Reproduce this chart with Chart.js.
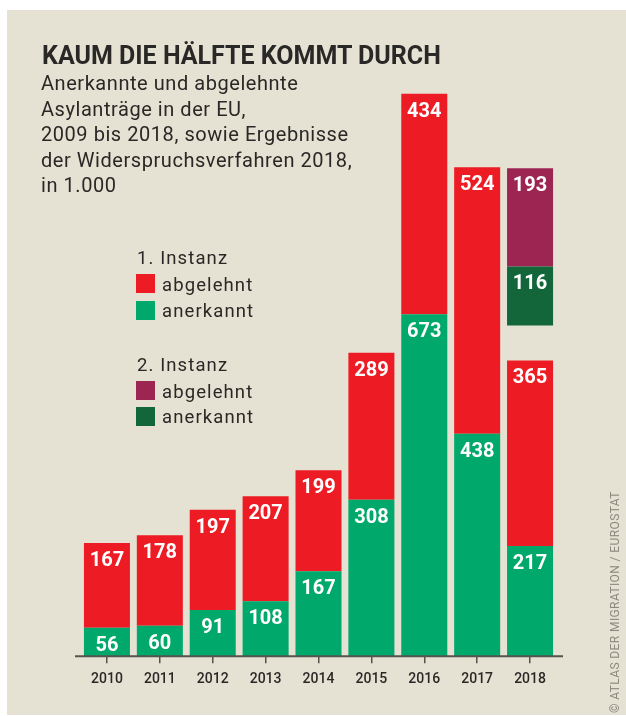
<!DOCTYPE html>
<html lang="de">
<head>
<meta charset="utf-8">
<script src="https://cdn.jsdelivr.net/npm/chart.js@4"></script>
<style>
  html, body { margin: 0; padding: 0; background: #fff; }
  body { width: 626px; height: 716px; position: relative; overflow: hidden; font-family: Roboto, sans-serif; color: #2a2826; }
  #panel { position: absolute; left: 7px; top: 10px; width: 619px; height: 705px; background: #e5e2d3; }
  #chart-wrap { position: absolute; left: 0; top: 0; width: 626px; height: 716px; }
  .txt { position: absolute; white-space: nowrap; }
  #title { left: 42px; top: 41px; font-size: 25px; line-height: 30px; font-weight: 700; letter-spacing: 0; }
  #subtitle { left: 41px; top: 71px; font-size: 20px; line-height: 25.5px; letter-spacing: 0.55px; }
  .lg { font-size: 18.5px; line-height: 26px; letter-spacing: 1.1px; }
  .sw { position: absolute; width: 19px; height: 19px; }
  #credit { left: 608px; top: 713px; font-size: 12px; line-height: 14px; color: #8c8a80; letter-spacing: 0.4px;
            transform-origin: 0 0; transform: rotate(-90deg); }
</style>
</head>
<body>
<div id="panel"></div>
<div id="chart-wrap"><canvas id="asylChart" width="626" height="716"></canvas></div>

<div class="txt" id="title">KAUM DIE HÄLFTE KOMMT DURCH</div>
<div class="txt" id="subtitle">Anerkannte und abgelehnte<br>Asylanträge in der EU,<br>2009 bis 2018, sowie Ergebnisse<br>der Widerspruchsverfahren 2018,<br>in 1.000</div>

<div class="txt lg" style="left:137px; top:245px;">1. Instanz</div>
<div class="sw" style="left:136px; top:274px; background:#ed1c24;"></div>
<div class="txt lg" style="left:162px; top:272px;">abgelehnt</div>
<div class="sw" style="left:136px; top:301px; background:#00a86b;"></div>
<div class="txt lg" style="left:162px; top:298px;">anerkannt</div>

<div class="txt lg" style="left:137px; top:352px;">2. Instanz</div>
<div class="sw" style="left:136px; top:381px; background:#9c2552;"></div>
<div class="txt lg" style="left:162px; top:379px;">abgelehnt</div>
<div class="sw" style="left:136px; top:407px; background:#13653a;"></div>
<div class="txt lg" style="left:162px; top:404px;">anerkannt</div>

<div class="txt" id="credit">© ATLAS DER MIGRATION / EUROSTAT</div>

<script>
(function(){

    // Asylanträge EU, in 1.000
    const years = ['2010', '2011', '2012', '2013', '2014', '2015', '2016', '2017', '2018'];
    const granted1 = [56, 60, 91, 108, 167, 308, 673, 438, 217];      // 1. Instanz anerkannt
    const rejected1 = [167, 178, 197, 207, 199, 289, 434, 524, 365];  // 1. Instanz abgelehnt
    const granted2 = [null, null, null, null, null, null, null, null, 116];   // 2. Instanz anerkannt
    const rejected2 = [null, null, null, null, null, null, null, null, 193];  // 2. Instanz abgelehnt
    const gap2 = 69; // space between the two blocks in 2018, in value units

    const RED = '#ed1c24', GREEN = '#00a86b', PURPLE = '#9c2552', DARKGREEN = '#13653a';
    const INK = '#2a2826', AXIS = '#55534e';

    Chart.defaults.font.family = 'Roboto, sans-serif';

    const firstTop = granted1.map((g, i) => g + rejected1[i]);
    const base2 = firstTop.map((t, i) => granted2[i] == null ? null : t + gap2);

    const datasets = [
        { label: 'anerkannt (1. Instanz)', values: granted1, backgroundColor: GREEN,
          data: granted1.map(v => [0, v]) },
        { label: 'abgelehnt (1. Instanz)', values: rejected1, backgroundColor: RED,
          data: rejected1.map((v, i) => [granted1[i], firstTop[i]]) },
        { label: 'anerkannt (2. Instanz)', values: granted2, backgroundColor: DARKGREEN,
          data: granted2.map((v, i) => v == null ? null : [base2[i], base2[i] + v]) },
        { label: 'abgelehnt (2. Instanz)', values: rejected2, backgroundColor: PURPLE,
          data: rejected2.map((v, i) => v == null ? null : [base2[i] + granted2[i], base2[i] + granted2[i] + v]) }
    ];

    // white numbers at the top of each segment
    const segmentLabels = {
        id: 'segmentLabels',
        afterDatasetsDraw(chart) {
            const ctx = chart.ctx;
            ctx.save();
            ctx.fillStyle = '#fff';
            ctx.font = 'bold 20px Roboto, sans-serif';
            ctx.textAlign = 'center';
            ctx.textBaseline = 'alphabetic';
            chart.data.datasets.forEach((ds, di) => {
                chart.getDatasetMeta(di).data.forEach((el, i) => {
                    const v = ds.values[i];
                    if (v == null) return;
                    ctx.fillText(String(v), el.x, el.y + 23);
                });
            });
            ctx.restore();
        }
    };

    // baseline slightly wider than the plot area
    const baseLine = {
        id: 'baseLine',
        afterDatasetsDraw(chart) {
            const { ctx, chartArea } = chart;
            const y = chart.scales.y.getPixelForValue(0);
            ctx.save();
            ctx.strokeStyle = AXIS;
            ctx.lineWidth = 2;
            ctx.beginPath();
            ctx.moveTo(chartArea.left - 5.5, y);
            ctx.lineTo(chartArea.right + 6.5, y);
            ctx.stroke();
            ctx.restore();
        }
    };

    new Chart(document.getElementById('asylChart'), {
        type: 'bar',
        data: { labels: years, datasets: datasets },
        options: {
            responsive: false,
            animation: false,
            layout: { padding: { left: 80.5, right: 69.5, top: 21, bottom: 20 } },
            datasets: { bar: { grouped: false, barPercentage: 0.87, categoryPercentage: 1 } },
            plugins: { legend: { display: false }, tooltip: { enabled: false } },
            scales: {
                x: {
                    grid: { display: true, offset: false, drawOnChartArea: false, drawTicks: true,
                            tickLength: 7, lineWidth: 1.5, color: AXIS },
                    border: { display: false },
                    ticks: { color: INK, padding: 8, font: { size: 14, weight: '500' } }
                },
                y: { display: false, min: 0, max: 1250 }
            }
        },
        plugins: [segmentLabels, baseLine]
    });
})();
</script>
</body>
</html>
